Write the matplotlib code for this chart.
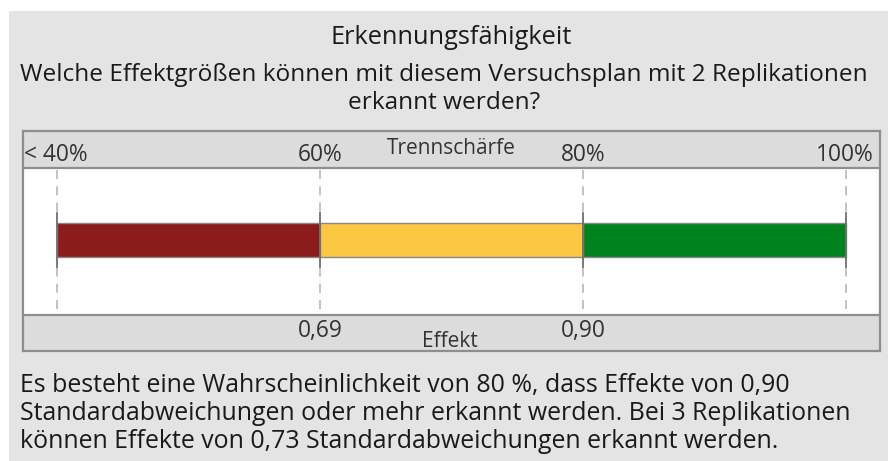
import matplotlib
matplotlib.use("Agg")
import matplotlib.pyplot as plt
from matplotlib.patches import Rectangle

plt.rcParams['font.family'] = ['Open Sans', 'DejaVu Sans']

# ---- data ----
title = "Erkennungsfähigkeit"
subtitle_lines = ["Welche Effektgrößen können mit diesem Versuchsplan mit 2 Replikationen",
                  "erkannt werden?"]
power_levels = [40, 60, 80, 100]
power_labels = ["< 40%", "60%", "80%", "100%"]
effect_positions = [60, 80]
effect_labels = ["0,69", "0,90"]
segment_starts = [40, 60, 80]
segment_ends = [60, 80, 100]
segment_colors = ["#8c1b1b", "#fcc844", "#00821f"]
axis_top_label = "Trennschärfe"
axis_bottom_label = "Effekt"
note_lines = ["Es besteht eine Wahrscheinlichkeit von 80 %, dass Effekte von 0,90",
              "Standardabweichungen oder mehr erkannt werden. Bei 3 Replikationen",
              "können Effekte von 0,73 Standardabweichungen erkannt werden."]

W, H = 888, 461
fig = plt.figure(figsize=(W / 100, H / 100), dpi=100)
fig.patch.set_facecolor("white")

# background canvas in pixel coords
bg = fig.add_axes([0, 0, 1, 1])
bg.set_xlim(0, W)
bg.set_ylim(H, 0)
bg.axis("off")
bg.add_patch(Rectangle((9, 11), W - 9, H - 11, facecolor="#e4e4e4", edgecolor="none"))

renderer = fig.canvas.get_renderer()

def fit(t, target_w):
    bb = t.get_window_extent(renderer)
    t.set_fontsize(t.get_fontsize() * target_w / bb.width)
    return t

txtc = "#1a1a1a"
t = bg.text(451, 38, title, ha="center", va="center", fontsize=14, color=txtc)
fit(t, 242)
s1 = bg.text(444, 75, subtitle_lines[0], ha="center", va="center", fontsize=14, color=txtc)
fit(s1, 848)
bg.text(444, 103, subtitle_lines[1], ha="center", va="center", fontsize=s1.get_fontsize(), color=txtc)

n2 = bg.text(20, 413, note_lines[1], ha="left", va="center", fontsize=14, color=txtc)
fit(n2, 835)
for i, line in enumerate(note_lines):
    if i == 1:
        continue
    bg.text(20, 385 + 28 * i, line, ha="left", va="center", fontsize=n2.get_fontsize(), color=txtc)

# ---- panel axes: x in power (%), y in pixel rows ----
left_px, right_px, top_px, bot_px = 23, 880, 131, 351
px_per_unit = (846 - 57) / (power_levels[-1] - power_levels[0])
xmin = power_levels[0] - (57 - left_px) / px_per_unit
xmax = power_levels[-1] + (right_px - 846) / px_per_unit
ax = fig.add_axes([left_px / W, 1 - bot_px / H, (right_px - left_px) / W, (bot_px - top_px) / H])
ax.set_xlim(xmin, xmax)
ax.set_ylim(bot_px, top_px)
ax.set_facecolor("white")
for sp in ax.spines.values():
    sp.set_color("#8e8e8e")
    sp.set_linewidth(1.6)
ax.set_xticks([])
ax.set_yticks([])

band_c = "#dcdcdc"
ax.axhspan(top_px, 168, facecolor=band_c, edgecolor="none", zorder=0)
ax.axhspan(315, bot_px, facecolor=band_c, edgecolor="none", zorder=0)
ax.axhline(168, color="#8e8e8e", lw=1.6)
ax.axhline(315, color="#8e8e8e", lw=1.6)

for p in power_levels:
    ax.plot([p, p], [170, 314], color="#bdbdbd", lw=1.3, ls=(0, (5, 4)), zorder=1)

ax.barh([240] * len(segment_starts),
        [e - s for s, e in zip(segment_starts, segment_ends)],
        left=segment_starts, height=34, color=segment_colors,
        edgecolor="#8a8a8a", linewidth=1.0, zorder=2)
for p in power_levels:
    ax.plot([p, p], [213, 267], color="#707070", lw=1.3, zorder=3)

lblc = "#333333"
fs_tick = 10
tick_texts = []
for p, lab in zip(power_levels, power_labels):
    if p == power_levels[0]:
        tt = ax.text(xmin + 0.05, 155, lab, ha="left", va="center", fontsize=fs_tick, color=lblc)
    elif p == power_levels[-1]:
        tt = ax.text(xmax - 0.45, 155, lab, ha="right", va="center", fontsize=fs_tick, color=lblc)
    else:
        tt = ax.text(p, 155, lab, ha="center", va="center", fontsize=fs_tick, color=lblc)
    tick_texts.append(tt)
fit(tick_texts[1], 45)
fs_tick = tick_texts[1].get_fontsize()
for tt in tick_texts:
    tt.set_fontsize(fs_tick)
tl = ax.text(xmin + (451 - left_px) / px_per_unit, 148, axis_top_label, ha="center", va="center",
             fontsize=10, color=lblc)
fit(tl, 129)
for p, lab in zip(effect_positions, effect_labels):
    ax.text(p, 331, lab, ha="center", va="center", fontsize=fs_tick, color=lblc)
ax.text(xmin + (450 - left_px) / px_per_unit, 341, axis_bottom_label, ha="center", va="center",
        fontsize=tl.get_fontsize(), color=lblc)

fig.savefig("out.png", dpi=100, facecolor=fig.get_facecolor())
